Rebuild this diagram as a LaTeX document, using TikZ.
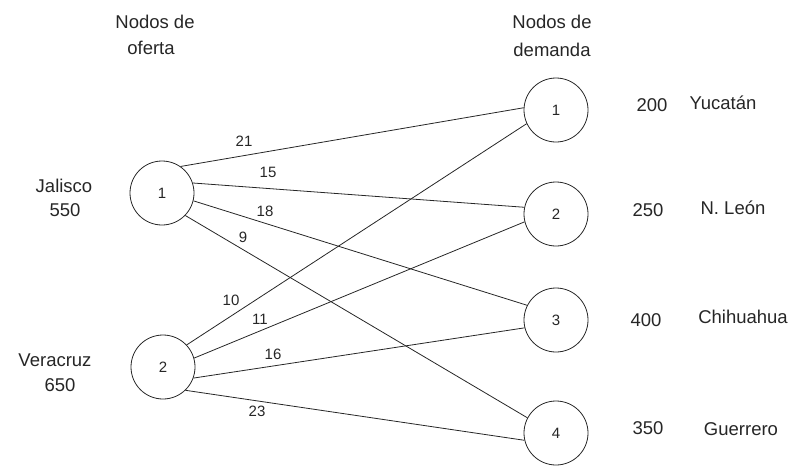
\documentclass[tikz,border=0pt]{standalone}
\usepackage{fontspec}
\setmainfont{Liberation Sans}
\begin{document}
\begin{tikzpicture}[x=1pt,y=-1pt,
  nd/.style={circle,draw=black!85,line width=0.8pt,minimum size=64pt,inner sep=0pt,font=\fontsize{15}{15}\selectfont,text=black!85},
  big/.style={font=\fontsize{18.5}{18.5}\selectfont,text=black!85,inner sep=0pt},
  cost/.style={font=\fontsize{15}{15}\selectfont,text=black!85,inner sep=0pt},
  edge/.style={draw=black!85,line width=0.8pt}]
\useasboundingbox (0,0) rectangle (792,466);
% nodes
\node[nd] (s1) at (162,193) {1};
\node[nd] (s2) at (163,367) {2};
\node[nd] (d1) at (556,110) {1};
\node[nd] (d2) at (556,214) {2};
\node[nd] (d3) at (556,320) {3};
\node[nd] (d4) at (556,433) {4};
% headers
\node[big] (h1a) at (155,22) {Nodos de};
\node[big] (h1b) at (151,48) {oferta};
\node[big] (h2a) at (552,22) {Nodos de};
\node[big] (h2b) at (552,50) {demanda};
% supply labels
\node[big] (l1a) at (64,186) {Jalisco};
\node[big] (l1b) at (65,210) {550};
\node[big] (l2a) at (55,360) {Veracruz};
\node[big] (l2b) at (60,385) {650};
% demand labels
\node[big] (q1) at (652,105) {200};
\node[big] (n1) at (723,103) {Yucatán};
\node[big] (q2) at (648,210) {250};
\node[big] (n2) at (733,208) {N. León};
\node[big] (q3) at (646,320) {400};
\node[big] (n3) at (743,317) {Chihuahua};
\node[big] (q4) at (648,428) {350};
\node[big] (n4) at (741,429) {Guerrero};
% edges
\draw[edge] (s1.55) -- (d1.176);
\draw[edge] (s1.18) -- (d2.168);
\draw[edge] (s1.-14) -- (d3.153);
\draw[edge] (s1.-44) -- (d4.152);
\draw[edge] (s2.43) -- (d1.205);
\draw[edge] (s2.16) -- (d2.194);
\draw[edge] (s2.-20) -- (d3.194);
\draw[edge] (s2.-46) -- (d4.193);
% costs
\node[cost] (c11) at (244,141) {21};
\node[cost] (c12) at (268,172) {15};
\node[cost] (c13) at (265,211) {18};
\node[cost] (c14) at (243,237) {9};
\node[cost] (c21) at (231,300) {10};
\node[cost] (c22) at (260,319) {11};
\node[cost] (c23) at (273,354) {16};
\node[cost] (c24) at (257,411) {23};
\end{tikzpicture}
\end{document}
